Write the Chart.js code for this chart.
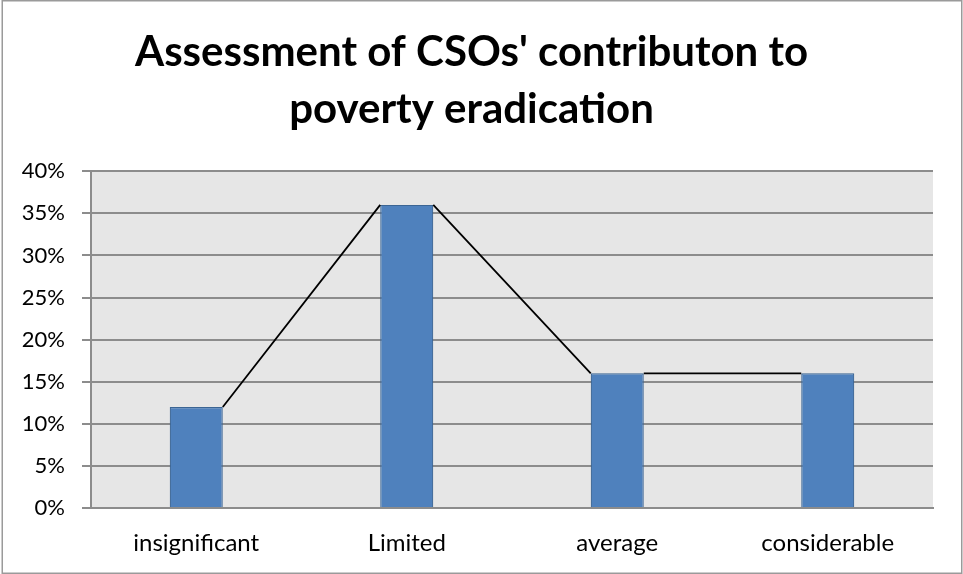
<!DOCTYPE html>
<html>
<head>
<meta charset="utf-8">
<script src="https://cdn.jsdelivr.net/npm/chart.js@4/dist/chart.umd.min.js"></script>
<style>
  html, body { margin: 0; padding: 0; background: #ffffff; }
  #wrap { width: 963px; height: 574px; position: relative; }
</style>
</head>
<body>
<div id="wrap"><canvas id="chart" width="963" height="574"></canvas></div>
<script>
// Survey categories and share of respondents (%) per category
const categories = ['insignificant', 'Limited', 'average', 'considerable'];
const shares = [12, 36, 16, 16];
const titleLines = ["Assessment of CSOs' contributon to", 'poverty eradication'];
const yMin = 0, yMax = 40, yStep = 5;

const FONT = 'Lato, "DejaVu Sans", sans-serif';

// Grey plot panel behind the grid
const panelBackground = {
  id: 'panelBackground',
  beforeDraw(chart) {
    const { ctx, chartArea: a } = chart;
    ctx.save();
    ctx.fillStyle = '#e6e6e6';
    ctx.fillRect(a.left, a.top, a.right - a.left, a.bottom - a.top);
    ctx.restore();
  }
};

// Thin connector running from each bar's top corner to the next bar's top corner
const barConnector = {
  id: 'barConnector',
  afterDatasetsDraw(chart) {
    const bars = chart.getDatasetMeta(0).data;
    const { ctx } = chart;
    ctx.save();
    ctx.strokeStyle = '#000000';
    ctx.lineWidth = 1.8;
    ctx.beginPath();
    for (let i = 0; i < bars.length - 1; i++) {
      const a = bars[i], b = bars[i + 1];
      ctx.moveTo(a.x + a.width / 2, a.y);
      ctx.lineTo(b.x - b.width / 2, b.y);
    }
    ctx.stroke();
    ctx.restore();
  }
};

// Outer frame around the whole figure
const outerFrame = {
  id: 'outerFrame',
  afterDraw(chart) {
    const { ctx, width, height } = chart;
    ctx.save();
    ctx.strokeStyle = '#9a9a9a';
    ctx.lineWidth = 1.5;
    ctx.strokeRect(2.25, 0.75, width - 3.5, height - 1.5);
    ctx.restore();
  }
};

new Chart(document.getElementById('chart'), {
  type: 'bar',
  data: {
    labels: categories,
    datasets: [{
      data: shares,
      backgroundColor: '#4f81bd',
      borderColor: '#3b6594',
      borderWidth: 1.2,
      barPercentage: 0.5,
      categoryPercentage: 0.504
    }]
  },
  options: {
    responsive: false,
    animation: false,
    layout: { padding: { left: 10, right: 30, top: 0, bottom: 0 } },
    plugins: {
      legend: { display: false },
      tooltip: { enabled: false },
      title: {
        display: true,
        text: titleLines,
        color: '#000000',
        font: { family: FONT, size: 42, weight: 'bold', lineHeight: 1.36 },
        padding: { top: 24, bottom: 33 }
      }
    },
    scales: {
      x: {
        grid: { display: false, drawTicks: false },
        border: { display: true, color: '#8c8c8c', width: 2 },
        ticks: { color: '#000000', font: { family: FONT, size: 24 }, padding: 21, maxRotation: 0 },
        afterFit(scale) { scale.height = 66; }
      },
      y: {
        min: yMin,
        max: yMax,
        ticks: {
          stepSize: yStep,
          color: '#000000',
          font: { family: FONT, size: 22 },
          padding: 17,
          callback: v => v + '%'
        },
        grid: { color: '#8c8c8c', lineWidth: 2, tickLength: 9, drawTicks: true },
        border: { display: true, color: '#8c8c8c', width: 2 },
        afterFit(scale) { scale.width = 81; }
      }
    }
  },
  plugins: [panelBackground, barConnector, outerFrame]
});
</script>
</body>
</html>
